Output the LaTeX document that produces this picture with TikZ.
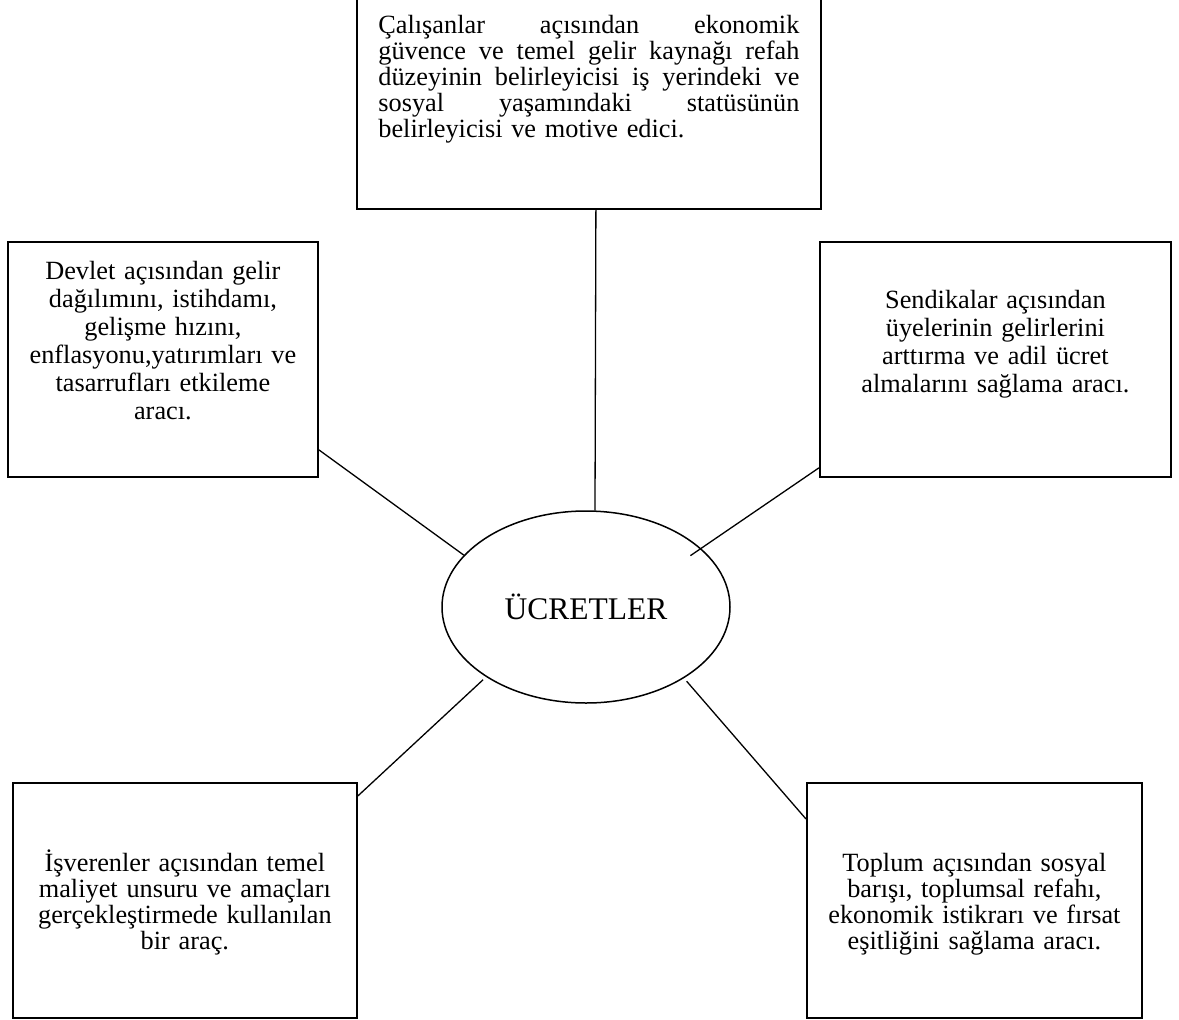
\documentclass[tikz,border=0pt]{standalone}
\usepackage{fontspec}
\setmainfont{Liberation Serif}
\usetikzlibrary{shapes.geometric}
\newcommand{\jline}[1]{{\spaceskip=0pt \xspaceskip=0pt \makebox[421pt][s]{#1}}}

\begin{document}
\begin{tikzpicture}[x=1pt, y=-1pt,
    box/.style={draw, line width=1.8pt, inner sep=0pt, anchor=north west, align=center,
        font=\fontsize{26.3}{28}\selectfont},
    edge/.style={line width=1.3pt}]
    \path[use as bounding box, fill=white] (0,0) rectangle (1179,1020);

    % Define the nodes
    \node[box, text width=421pt, inner xsep=21.5pt, align=left, text height=53pt, text depth=175pt,
        font=\fontsize{26.3}{26}\selectfont] (cal) at (356,-20)
        {\jline{Çalışanlar açısından ekonomik}\\
         \jline{güvence ve temel gelir kaynağı refah}\\
         \jline{düzeyinin belirleyicisi iş yerindeki ve}\\
         \jline{sosyal yaşamındaki statüsünün}\\
         belirleyicisi ve motive edici.};
    \node[box, text width=310pt, text height=38pt, text depth=197pt] (devlet) at (7,241)
        {Devlet açısından gelir\\ dağılımını, istihdamı,\\ gelişme hızını,\\
         enflasyonu,yatırımları ve\\ tasarrufları etkileme\\ aracı.};
    \node[box, text width=351pt, text height=67pt, text depth=168pt] (sendika) at (819,241)
        {Sendikalar açısından\\ üyelerinin gelirlerini\\ arttırma ve adil ücret\\ almalarını sağlama aracı.};
    \node[box, text width=344pt, text height=89pt, text depth=146pt,
        font=\fontsize{26.3}{26}\selectfont] (isveren) at (12,782)
        {İşverenler açısından temel\\ maliyet unsuru ve amaçları\\ gerçekleştirmede kullanılan\\ bir araç.};
    \node[box, text width=335pt, text height=89pt, text depth=146pt,
        font=\fontsize{26.3}{26}\selectfont] (toplum) at (806,782)
        {Toplum açısından sosyal\\ barışı, toplumsal refahı,\\ ekonomik istikrarı ve fırsat\\ eşitliğini sağlama aracı.};
    \node[draw, ellipse, line width=1.5pt, minimum width=288pt, minimum height=192pt, inner sep=0pt,
        font=\fontsize{31.5}{36}\selectfont] (ucret) at (586,607) {ÜCRETLER};

    % Draw the edges
    \draw[edge] ([xshift=7pt]cal.south) -- ([xshift=9pt]ucret.north);
    \draw[edge] ([yshift=28pt]devlet.south east) -- (ucret.157);
    \draw[edge, shorten >=-13pt] ([yshift=10pt]sendika.south west) -- (ucret.27);
    \draw[edge, shorten >=4pt] ([yshift=-14pt]isveren.north east) -- (ucret.215);
    \draw[edge, shorten <=4pt] (ucret.-36) -- ([yshift=-37pt]toplum.north west);
\end{tikzpicture}
\end{document}
